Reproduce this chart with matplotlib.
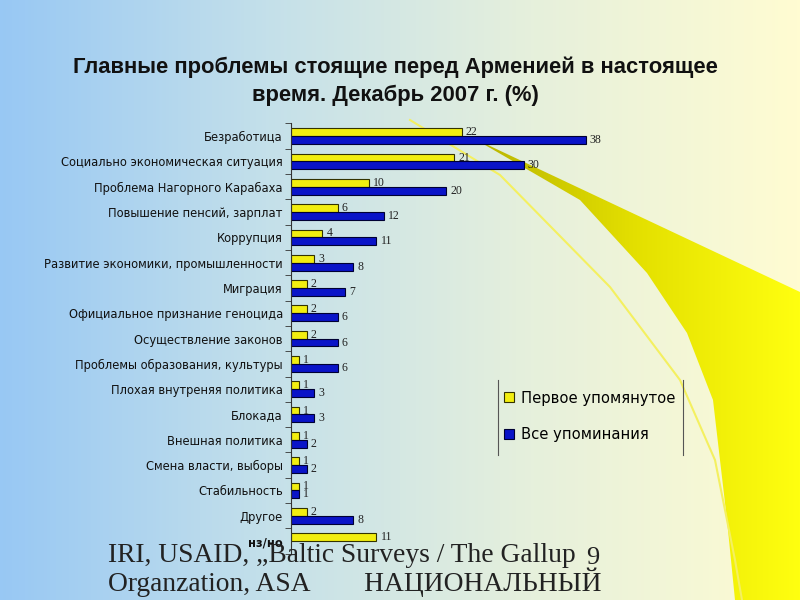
import numpy as np
import matplotlib
matplotlib.use("Agg")
import matplotlib.pyplot as plt
from matplotlib.colors import LinearSegmentedColormap
from matplotlib.patches import Polygon

categories = ["Безработица", "Социально экономическая ситуация", "Проблема Нагорного Карабаха",
              "Повышение пенсий, зарплат", "Коррупция", "Развитие экономики, промышленности",
              "Миграция", "Официальное признание геноцида", "Осуществление законов",
              "Проблемы образования, культуры", "Плохая внутреняя политика", "Блокада",
              "Внешная политика", "Смена власти, выборы", "Стабильность", "Другое", "нз/но"]
first_mention = [22, 21, 10, 6, 4, 3, 2, 2, 2, 1, 1, 1, 1, 1, 1, 2, 11]
all_mentions = [38, 30, 20, 12, 11, 8, 7, 6, 6, 6, 3, 3, 2, 2, 1, 8, np.nan]

fig = plt.figure(figsize=(8, 6), dpi=100)

# slide background
bg = fig.add_axes([0, 0, 1, 1])
bg.set_xlim(0, 800)
bg.set_ylim(600, 0)
bg.axis("off")
bg_cmap = LinearSegmentedColormap.from_list("bg", ["#98c8f4", "#c4e0ea", "#e6f0dc", "#fffcd2"])
bg.imshow(np.linspace(0, 1, 256)[None, :], cmap=bg_cmap, aspect="auto",
          extent=[0, 800, 600, 0], zorder=0)

# yellow swoosh
band = Polygon([(473, 138), (800, 292), (800, 600), (735, 600), (727, 520), (713, 400),
                (687, 333), (647, 273), (580, 200)], closed=True, facecolor="none", edgecolor="none")
bg.add_patch(band)
sw_cmap = LinearSegmentedColormap.from_list("sw", ["#b8b400", "#e4e000", "#ffff10"])
sw = bg.imshow(np.linspace(0, 1, 256)[None, :], cmap=sw_cmap, aspect="auto",
               extent=[473, 800, 600, 138], zorder=1)
sw.set_clip_path(band)
bg.plot([410, 500, 610, 680, 715, 735, 742], [120, 175, 287, 380, 460, 560, 600],
        color="#f4f060", lw=1.5, zorder=1)

fig.text(0.494, 0.865, "Главные проблемы стоящие перед Арменией в настоящее\nвремя. Декабрь 2007 г. (%)",
         ha="center", va="center", fontsize=15.8, fontweight="bold", color="#111111",
         family="Liberation Sans", linespacing=1.4)

# chart
ax = fig.add_axes([0.364, 0.0772, 0.3875, 0.717])
ax.patch.set_alpha(0)
y = np.arange(len(categories))
h = 0.31
b1 = ax.barh(y - h / 2, first_mention, height=h, color="#f2ee10", edgecolor="#333300", lw=0.8,
             label="Первое упомянутое")
b2 = ax.barh(y + h / 2, all_mentions, height=h, color="#0a14c8", edgecolor="#000033", lw=0.8,
             label="Все упоминания")
ax.bar_label(b1, padding=3, fontsize=8.5, family="Liberation Serif", color="#222222")
ax.bar_label(b2, labels=["" if np.isnan(v) else f"{v:g}" for v in all_mentions],
             padding=3, fontsize=8.5, family="Liberation Serif", color="#222222")
ax.set_xlim(0, 40)
ax.set_ylim(len(categories) - 0.5, -0.5)
ax.set_yticks(y)
ax.set_yticklabels(categories, fontsize=8.3, family="DejaVu Sans", color="#111111")
ax.get_yticklabels()[-1].set_fontweight("bold")
ax.tick_params(axis="y", length=0, pad=6)
ax.set_yticks(np.arange(-0.5, len(categories), 1), minor=True)
ax.tick_params(axis="y", which="minor", length=4, color="#333333")
ax.set_xticks([])
for s in ["top", "right", "bottom"]:
    ax.spines[s].set_visible(False)
ax.spines["left"].set_color("#333333")

leg = ax.legend(loc="upper left", bbox_to_anchor=(0.645, 0.41), frameon=False,
                prop={"family": "DejaVu Sans", "size": 10.6}, handlelength=0.65,
                handleheight=0.65, labelspacing=1.45, handletextpad=0.5)
bg.plot([498, 498], [380, 455], color="#555555", lw=0.8)
bg.plot([683, 683], [380, 455], color="#555555", lw=0.8)

# footer
fig.text(0.135, 0.064, "IRI, USAID, \u201eBaltic Surveys / The Gallup", fontsize=19.8,
         family="Liberation Serif", color="#222222", va="baseline")
fig.text(0.135, 0.015, "Organzation, ASA        НАЦИОНАЛЬНЫЙ", fontsize=19.8,
         family="Liberation Serif", color="#222222", va="baseline")
fig.text(0.733, 0.06, "9", fontsize=19, family="Liberation Serif", color="#222222", va="baseline")

fig.savefig("out.png", dpi=100)
